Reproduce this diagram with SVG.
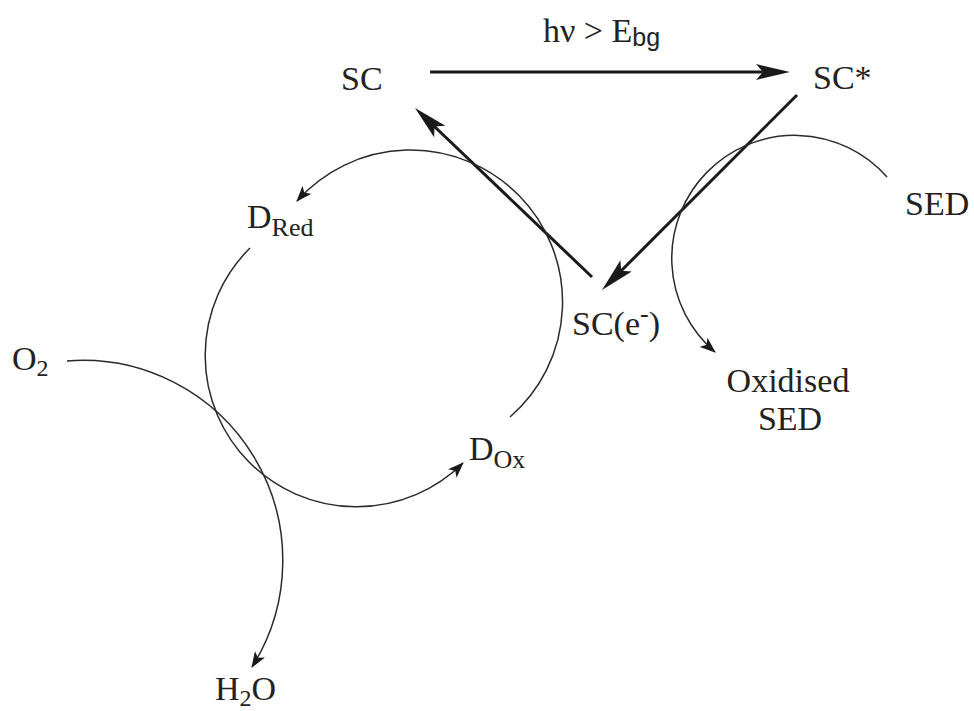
<svg xmlns="http://www.w3.org/2000/svg" width="974" height="711" viewBox="0 0 974 711">
<defs>
<style>
.t{font-family:"Liberation Serif","Times New Roman",serif;font-size:34px;fill:#222}
.s{font-size:26px}
.d{font-size:24px}
.sans{font-family:"Liberation Sans",Arial,sans-serif;font-size:25px}
.thick{fill:none;stroke:#1a1a1a;stroke-width:3}
.thin{fill:none;stroke:#2a2a2a;stroke-width:1.5}
</style>
<marker id="big" markerUnits="userSpaceOnUse" viewBox="0 0 34 16" refX="26" refY="8" markerWidth="34" markerHeight="16" orient="auto">
<path d="M0,0 L34,8 L0,16 L7,8 z" fill="#1a1a1a"/>
</marker>
<marker id="small" markerUnits="userSpaceOnUse" viewBox="0 0 16 12" refX="15" refY="6" markerWidth="16" markerHeight="12" orient="auto">
<path d="M0,0 L16,6 L0,12 L4,6 z" fill="#1a1a1a"/>
</marker>
</defs>
<rect width="974" height="711" fill="#fff"/>
<g id="connectors">
<path class="thick" d="M430,72 L782,72" marker-end="url(#big)"/>
<path class="thick" d="M797,95 L607.7,284.3" marker-end="url(#big)"/>
<path class="thick" d="M592,277 L420.8,113.5" marker-end="url(#big)"/>
<path class="thin" d="M510,417 A152,152 0 1 0 297,201" marker-end="url(#small)"/>
<path class="thin" d="M250,248 A151,151 0 0 0 463,463" marker-end="url(#small)"/>
<path class="thin" d="M67,361 A200,200 0 0 1 252,667" marker-end="url(#small)"/>
<path class="thin" d="M887,177 A123,123 0 1 0 715,352" marker-end="url(#small)"/>
</g>
<g id="label-hv"><text class="t" x="543" y="42">hν &gt; E<tspan class="sans" dy="4">bg</tspan></text></g>
<g id="node-SC"><text class="t" x="341" y="90">SC</text></g>
<g id="node-SCstar"><text class="t" x="813" y="89">SC*</text></g>
<g id="node-SCe"><text class="t" x="572" y="335">SC(e<tspan class="s" dy="-13">-</tspan><tspan dy="13">)</tspan></text></g>
<g id="node-DRed"><text class="t" x="247" y="228">D<tspan class="s" dy="8">Red</tspan></text></g>
<g id="node-DOx"><text class="t" x="469" y="460">D<tspan class="s" dy="8">Ox</tspan></text></g>
<g id="node-O2"><text class="t" x="12" y="370">O<tspan class="d" dy="6">2</tspan></text></g>
<g id="node-H2O"><text class="t" x="215" y="700">H<tspan class="d" dy="6">2</tspan><tspan dy="-6">O</tspan></text></g>
<g id="node-SED"><text class="t" x="905" y="215">SED</text></g>
<g id="node-OxSED"><text class="t" x="788" y="392" text-anchor="middle">Oxidised</text><text class="t" x="790" y="430" text-anchor="middle">SED</text></g>
</svg>
